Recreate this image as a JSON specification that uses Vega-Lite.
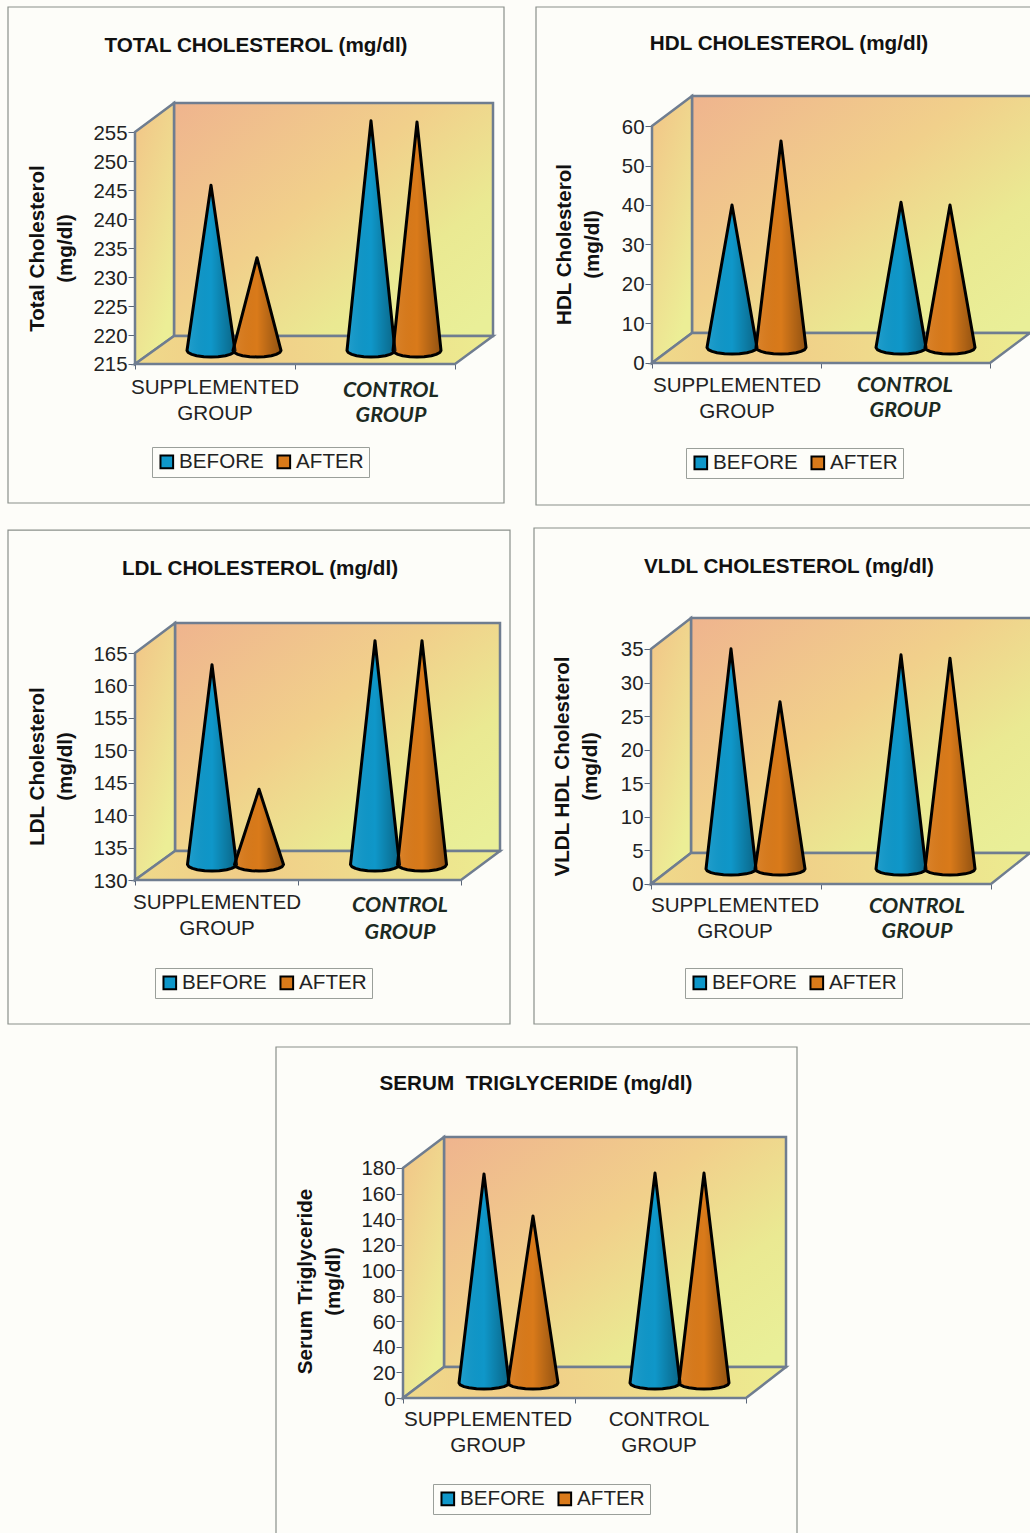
{
"$schema":"https://vega.github.io/schema/vega-lite/v6.json",
"background":"#fdfdf9",
"padding":0,
"spacing":0,
"resolve":{"scale":{"color":"independent"},"legend":{"color":"independent"}},
"config":{"view":{"stroke":null},"concat":{"spacing":0},"font":"Liberation Sans",
"legend":{"orient":"none","title":null,"direction":"horizontal","columns":2,"symbolType":"square","symbolSize":160,"symbolStrokeColor":"#000","symbolStrokeWidth":2,"labelFontSize":20.6,"labelColor":"#222","labelOffset":2,"columnPadding":8,"padding":4.5,"strokeColor":"#9a9f9a","fillColor":"#fdfdf9"},
"axis":{"grid":false,"domain":false,"ticks":true,"tickColor":"#5a6678","labelColor":"#222","labelFontSize":20.4,"labelPadding":1,"labelOffset":1,"titleColor":"#111","titleFontSize":20.6,"titleFontWeight":"bold","titleAngle":-90,"titleAlign":"center","titleBaseline":"alphabetic","titleLineHeight":28},
"title":{"fontSize":20.7,"fontWeight":"bold","color":"#111","anchor":"middle","frame":"group","baseline":"middle"}},
"datasets":{"lipids":[
{"panel":"total","group":"Supplemented","period":"BEFORE","value":243.5},
{"panel":"total","group":"Supplemented","period":"AFTER","value":231},
{"panel":"total","group":"Control","period":"BEFORE","value":254.6},
{"panel":"total","group":"Control","period":"AFTER","value":254.4},
{"panel":"hdl","group":"Supplemented","period":"BEFORE","value":36.1},
{"panel":"hdl","group":"Supplemented","period":"AFTER","value":52.3},
{"panel":"hdl","group":"Control","period":"BEFORE","value":36.8},
{"panel":"hdl","group":"Control","period":"AFTER","value":36.1},
{"panel":"ldl","group":"Supplemented","period":"BEFORE","value":160.8},
{"panel":"ldl","group":"Supplemented","period":"AFTER","value":141.6},
{"panel":"ldl","group":"Control","period":"BEFORE","value":164.5},
{"panel":"ldl","group":"Control","period":"AFTER","value":164.5},
{"panel":"vldl","group":"Supplemented","period":"BEFORE","value":32.8},
{"panel":"vldl","group":"Supplemented","period":"AFTER","value":24.9},
{"panel":"vldl","group":"Control","period":"BEFORE","value":31.9},
{"panel":"vldl","group":"Control","period":"AFTER","value":31.4},
{"panel":"tg","group":"Supplemented","period":"BEFORE","value":163.6},
{"panel":"tg","group":"Supplemented","period":"AFTER","value":130.7},
{"panel":"tg","group":"Control","period":"BEFORE","value":164.3},
{"panel":"tg","group":"Control","period":"AFTER","value":164.3}
]},
"vconcat":[
{"bounds":"flush","spacing":0,"resolve":{"scale":{"color":"independent"},"legend":{"color":"independent"}},"hconcat":[
{"width":520,"height":517,
"title":{"text":"TOTAL CHOLESTEROL (mg/dl)","offset":-57,"dx":-4},
"encoding":{
"x":{"field":"px","type":"quantitative","scale":{"domain":[0,520],"nice":false,"zero":false},"axis":{"title":null,"labels":false,"values":[135,295,455],"tickSize":5,"offset":-153}},
"y":{"field":"top","type":"quantitative","scale":{"domain":[188.62,277.76],"nice":false,"zero":false},"axis":{"title":["Total Cholesterol","(mg/dl)"],"values":[215,220,225,230,235,240,245,250,255],"tickSize":7,"offset":-135,"titleX":-92,"titleY":248}}},
"layer":[
{"data":{"values":[{"px":8,"px2":504,"top":276.55,"bottom":191.03}]},"mark":{"type":"rect","fill":"transparent","stroke":"#8a908a","strokeWidth":1.2},"encoding":{"x2":{"field":"px2"},"y2":{"field":"bottom"}}},
{"data":{"values":[{"px":174,"px2":493,"top":260,"bottom":219.83}]},"mark":{"type":"rect","stroke":"#6f7d90","strokeWidth":2.5,"fill":{"gradient":"linear","x1":0,"y1":0,"x2":1,"y2":0.9,"stops":[{"offset":0,"color":"#efb48e"},{"offset":0.45,"color":"#f1d08b"},{"offset":0.75,"color":"#eae992"},{"offset":1,"color":"#e9ef98"}]}},"encoding":{"x2":{"field":"px2"},"y2":{"field":"bottom"}}},
{"data":{"values":[{"px":135,"top":255,"bottom":215},{"px":174,"top":260,"bottom":219.83}]},"mark":{"type":"area","orient":"vertical","stroke":"#6f7d90","strokeWidth":2.5,"fill":{"gradient":"linear","x1":0,"y1":0,"x2":0.5,"y2":1,"stops":[{"offset":0,"color":"#f2c487"},{"offset":1,"color":"#ecee96"}]}},"encoding":{"y2":{"field":"bottom"}}},
{"data":{"values":[{"px":135,"top":215,"bottom":215},{"px":174,"top":219.83,"bottom":215},{"px":455,"top":219.83,"bottom":215},{"px":493,"top":219.83,"bottom":219.83}]},"mark":{"type":"area","orient":"vertical","stroke":"#6f7d90","strokeWidth":2.5,"fill":{"gradient":"linear","x1":0,"y1":0,"x2":1,"y2":0,"stops":[{"offset":0,"color":"#efd98a"},{"offset":0.3,"color":"#f1cd88"},{"offset":1,"color":"#ecec90"}]}},"encoding":{"y2":{"field":"bottom"}}},
{"data":{"name":"lipids"},
"transform":[{"filter":"datum.panel==='total'"},{"calculate":"[-1,-0.95,-0.8,-0.6,-0.3,0,0.3,0.6,0.8,0.95,1]","as":"u"},{"flatten":["u"]},
{"calculate":"({Supplemented:{BEFORE:211,AFTER:257},Control:{BEFORE:371,AFTER:417}})[datum.group][datum.period]+24*datum.u","as":"px"},
{"calculate":"217.33+(datum.value+2.33-217.33)*(1-abs(datum.u))","as":"top"},
{"calculate":"217.33-1.12*sqrt(1-datum.u*datum.u)","as":"bottom"},
{"calculate":"datum.group+datum.period","as":"cone"}],
"layer":[
{"mark":{"type":"area","orient":"vertical"},"encoding":{"y2":{"field":"bottom"},"detail":{"field":"cone"},"color":{"field":"period","type":"nominal","scale":{"domain":["BEFORE","AFTER"],"range":["#0f97c9","#d97a1a"]},"legend":{"legendX":152,"legendY":447}}}},
{"mark":{"type":"area","orient":"vertical","stroke":"#000","strokeWidth":3,"strokeJoin":"round","fill":{"gradient":"linear","x1":0,"y1":0,"x2":1,"y2":0,"stops":[{"offset":0,"color":"rgba(255,255,255,0.08)"},{"offset":0.5,"color":"rgba(0,0,0,0)"},{"offset":1,"color":"rgba(0,0,0,0.33)"}]}},"encoding":{"y2":{"field":"bottom"},"detail":{"field":"cone"}}}
]},
{"data":{"values":[{"px":215,"top":210.86,"label":"SUPPLEMENTED\nGROUP"}]},"mark":{"type":"text","fontSize":20.6,"color":"#222","lineBreak":"\n","lineHeight":26,"baseline":"middle"},"encoding":{"text":{"field":"label"}}},
{"data":{"values":[{"px":391,"top":210.35,"label":"CONTROL\nGROUP"}]},"mark":{"type":"text","font":"Lato","fontStyle":"italic","fontWeight":"bold","fontSize":21.5,"color":"#1c2a22","lineBreak":"\n","lineHeight":25,"baseline":"middle"},"encoding":{"text":{"field":"label"}}}
]},
{"width":510,"height":517,
"title":{"text":"HDL CHOLESTEROL (mg/dl)","offset":-55,"dx":14},
"encoding":{
"x":{"field":"px","type":"quantitative","scale":{"domain":[520,1030],"nice":false,"zero":false},"axis":{"title":null,"labels":false,"values":[652,821,990],"tickSize":5,"offset":-154}},
"y":{"field":"top","type":"quantitative","scale":{"domain":[-38.99,91.9],"nice":false,"zero":false},"axis":{"title":["HDL Cholesterol","(mg/dl)"],"values":[0,10,20,30,40,50,60],"tickSize":7,"offset":-132,"titleX":-82,"titleY":244}}},
"layer":[
{"data":{"values":[{"px":536,"px2":1040,"top":90.13,"bottom":-35.95}]},"mark":{"type":"rect","clip":true,"fill":"transparent","stroke":"#8a908a","strokeWidth":1.2},"encoding":{"x2":{"field":"px2"},"y2":{"field":"bottom"}}},
{"data":{"values":[{"px":692,"px2":1040,"top":67.59,"bottom":7.59}]},"mark":{"type":"rect","clip":true,"stroke":"#6f7d90","strokeWidth":2.5,"fill":{"gradient":"linear","x1":0,"y1":0,"x2":1,"y2":0.9,"stops":[{"offset":0,"color":"#efb48e"},{"offset":0.45,"color":"#f1d08b"},{"offset":0.75,"color":"#eae992"},{"offset":1,"color":"#e9ef98"}]}},"encoding":{"x2":{"field":"px2"},"y2":{"field":"bottom"}}},
{"data":{"values":[{"px":652,"top":60,"bottom":0},{"px":692,"top":67.59,"bottom":7.59}]},"mark":{"type":"area","orient":"vertical","stroke":"#6f7d90","strokeWidth":2.5,"fill":{"gradient":"linear","x1":0,"y1":0,"x2":0.5,"y2":1,"stops":[{"offset":0,"color":"#f2c487"},{"offset":1,"color":"#ecee96"}]}},"encoding":{"y2":{"field":"bottom"}}},
{"data":{"values":[{"px":652,"top":0,"bottom":0},{"px":692,"top":7.59,"bottom":0},{"px":990,"top":7.59,"bottom":0},{"px":1030,"top":7.59,"bottom":7.59}]},"mark":{"type":"area","orient":"vertical","clip":true,"stroke":"#6f7d90","strokeWidth":2.5,"fill":{"gradient":"linear","x1":0,"y1":0,"x2":1,"y2":0,"stops":[{"offset":0,"color":"#efd98a"},{"offset":0.3,"color":"#f1cd88"},{"offset":1,"color":"#ecec90"}]}},"encoding":{"y2":{"field":"bottom"}}},
{"data":{"name":"lipids"},
"transform":[{"filter":"datum.panel==='hdl'"},{"calculate":"[-1,-0.95,-0.8,-0.6,-0.3,0,0.3,0.6,0.8,0.95,1]","as":"u"},{"flatten":["u"]},
{"calculate":"({Supplemented:{BEFORE:732,AFTER:781},Control:{BEFORE:901,AFTER:950}})[datum.group][datum.period]+25*datum.u","as":"px"},
{"calculate":"3.92+(datum.value+3.92-3.92)*(1-abs(datum.u))","as":"top"},
{"calculate":"3.92-1.65*sqrt(1-datum.u*datum.u)","as":"bottom"},
{"calculate":"datum.group+datum.period","as":"cone"}],
"layer":[
{"mark":{"type":"area","orient":"vertical"},"encoding":{"y2":{"field":"bottom"},"detail":{"field":"cone"},"color":{"field":"period","type":"nominal","scale":{"domain":["BEFORE","AFTER"],"range":["#0f97c9","#d97a1a"]},"legend":{"legendX":166,"legendY":448}}}},
{"mark":{"type":"area","orient":"vertical","stroke":"#000","strokeWidth":3,"strokeJoin":"round","fill":{"gradient":"linear","x1":0,"y1":0,"x2":1,"y2":0,"stops":[{"offset":0,"color":"rgba(255,255,255,0.08)"},{"offset":0.5,"color":"rgba(0,0,0,0)"},{"offset":1,"color":"rgba(0,0,0,0.33)"}]}},"encoding":{"y2":{"field":"bottom"},"detail":{"field":"cone"}}}
]},
{"data":{"values":[{"px":737,"top":-5.82,"label":"SUPPLEMENTED\nGROUP"}]},"mark":{"type":"text","fontSize":20.6,"color":"#222","lineBreak":"\n","lineHeight":26,"baseline":"middle"},"encoding":{"text":{"field":"label"}}},
{"data":{"values":[{"px":905,"top":-5.82,"label":"CONTROL\nGROUP"}]},"mark":{"type":"text","font":"Lato","fontStyle":"italic","fontWeight":"bold","fontSize":21.5,"color":"#1c2a22","lineBreak":"\n","lineHeight":25,"baseline":"middle"},"encoding":{"text":{"field":"label"}}}
]}
]},
{"bounds":"flush","spacing":0,"resolve":{"scale":{"color":"independent"},"legend":{"color":"independent"}},"hconcat":[
{"width":520,"height":519,
"title":{"text":"LDL CHOLESTEROL (mg/dl)","offset":-63,"dx":0},
"encoding":{
"x":{"field":"px","type":"quantitative","scale":{"domain":[0,520],"nice":false,"zero":false},"axis":{"title":null,"labels":false,"values":[135,298,461],"tickSize":5,"offset":-156}},
"y":{"field":"top","type":"quantitative","scale":{"domain":[105.95,185.97],"nice":false,"zero":false},"axis":{"title":["LDL Cholesterol","(mg/dl)"],"values":[130,135,140,145,150,155,160,165],"tickSize":7,"offset":-135,"titleX":-92,"titleY":249}}},
"layer":[
{"data":{"values":[{"px":8,"px2":510,"top":183.96,"bottom":107.8}]},"mark":{"type":"rect","fill":"transparent","stroke":"#8a908a","strokeWidth":1.2},"encoding":{"x2":{"field":"px2"},"y2":{"field":"bottom"}}},
{"data":{"values":[{"px":175,"px2":500,"top":169.62,"bottom":134.47}]},"mark":{"type":"rect","stroke":"#6f7d90","strokeWidth":2.5,"fill":{"gradient":"linear","x1":0,"y1":0,"x2":1,"y2":0.9,"stops":[{"offset":0,"color":"#efb48e"},{"offset":0.45,"color":"#f1d08b"},{"offset":0.75,"color":"#eae992"},{"offset":1,"color":"#e9ef98"}]}},"encoding":{"x2":{"field":"px2"},"y2":{"field":"bottom"}}},
{"data":{"values":[{"px":135,"top":165,"bottom":130},{"px":175,"top":169.62,"bottom":134.47}]},"mark":{"type":"area","orient":"vertical","stroke":"#6f7d90","strokeWidth":2.5,"fill":{"gradient":"linear","x1":0,"y1":0,"x2":0.5,"y2":1,"stops":[{"offset":0,"color":"#f2c487"},{"offset":1,"color":"#ecee96"}]}},"encoding":{"y2":{"field":"bottom"}}},
{"data":{"values":[{"px":135,"top":130,"bottom":130},{"px":175,"top":134.47,"bottom":130},{"px":461,"top":134.47,"bottom":130},{"px":500,"top":134.47,"bottom":134.47}]},"mark":{"type":"area","orient":"vertical","stroke":"#6f7d90","strokeWidth":2.5,"fill":{"gradient":"linear","x1":0,"y1":0,"x2":1,"y2":0,"stops":[{"offset":0,"color":"#efd98a"},{"offset":0.3,"color":"#f1cd88"},{"offset":1,"color":"#ecec90"}]}},"encoding":{"y2":{"field":"bottom"}}},
{"data":{"name":"lipids"},
"transform":[{"filter":"datum.panel==='ldl'"},{"calculate":"[-1,-0.95,-0.8,-0.6,-0.3,0,0.3,0.6,0.8,0.95,1]","as":"u"},{"flatten":["u"]},
{"calculate":"({Supplemented:{BEFORE:212,AFTER:259},Control:{BEFORE:375,AFTER:422}})[datum.group][datum.period]+24.5*datum.u","as":"px"},
{"calculate":"132.39+(datum.value+2.39-132.39)*(1-abs(datum.u))","as":"top"},
{"calculate":"132.39-1*sqrt(1-datum.u*datum.u)","as":"bottom"},
{"calculate":"datum.group+datum.period","as":"cone"}],
"layer":[
{"mark":{"type":"area","orient":"vertical"},"encoding":{"y2":{"field":"bottom"},"detail":{"field":"cone"},"color":{"field":"period","type":"nominal","scale":{"domain":["BEFORE","AFTER"],"range":["#0f97c9","#d97a1a"]},"legend":{"legendX":155,"legendY":451}}}},
{"mark":{"type":"area","orient":"vertical","stroke":"#000","strokeWidth":3,"strokeJoin":"round","fill":{"gradient":"linear","x1":0,"y1":0,"x2":1,"y2":0,"stops":[{"offset":0,"color":"rgba(255,255,255,0.08)"},{"offset":0.5,"color":"rgba(0,0,0,0)"},{"offset":1,"color":"rgba(0,0,0,0.33)"}]}},"encoding":{"y2":{"field":"bottom"},"detail":{"field":"cone"}}}
]},
{"data":{"values":[{"px":217,"top":126.45,"label":"SUPPLEMENTED\nGROUP"}]},"mark":{"type":"text","fontSize":20.6,"color":"#222","lineBreak":"\n","lineHeight":26,"baseline":"middle"},"encoding":{"text":{"field":"label"}}},
{"data":{"values":[{"px":400,"top":126,"label":"CONTROL\nGROUP"}]},"mark":{"type":"text","font":"Lato","fontStyle":"italic","fontWeight":"bold","fontSize":21.5,"color":"#1c2a22","lineBreak":"\n","lineHeight":27,"baseline":"middle"},"encoding":{"text":{"field":"label"}}}
]},
{"width":510,"height":519,
"title":{"text":"VLDL CHOLESTEROL (mg/dl)","offset":-61,"dx":14},
"encoding":{
"x":{"field":"px","type":"quantitative","scale":{"domain":[520,1030],"nice":false,"zero":false},"axis":{"title":null,"labels":false,"values":[651,821,991],"tickSize":5,"offset":-152}},
"y":{"field":"top","type":"quantitative","scale":{"domain":[-22.64,54.66],"nice":false,"zero":false},"axis":{"title":["VLDL HDL Cholesterol","(mg/dl)"],"values":[0,5,10,15,20,25,30,35],"tickSize":7,"offset":-131,"titleX":-83,"titleY":249}}},
"layer":[
{"data":{"values":[{"px":534,"px2":1040,"top":53.02,"bottom":-20.85}]},"mark":{"type":"rect","clip":true,"fill":"transparent","stroke":"#8a908a","strokeWidth":1.2},"encoding":{"x2":{"field":"px2"},"y2":{"field":"bottom"}}},
{"data":{"values":[{"px":691,"px2":1040,"top":39.62,"bottom":4.62}]},"mark":{"type":"rect","clip":true,"stroke":"#6f7d90","strokeWidth":2.5,"fill":{"gradient":"linear","x1":0,"y1":0,"x2":1,"y2":0.9,"stops":[{"offset":0,"color":"#efb48e"},{"offset":0.45,"color":"#f1d08b"},{"offset":0.75,"color":"#eae992"},{"offset":1,"color":"#e9ef98"}]}},"encoding":{"x2":{"field":"px2"},"y2":{"field":"bottom"}}},
{"data":{"values":[{"px":651,"top":35,"bottom":0},{"px":691,"top":39.62,"bottom":4.62}]},"mark":{"type":"area","orient":"vertical","stroke":"#6f7d90","strokeWidth":2.5,"fill":{"gradient":"linear","x1":0,"y1":0,"x2":0.5,"y2":1,"stops":[{"offset":0,"color":"#f2c487"},{"offset":1,"color":"#ecee96"}]}},"encoding":{"y2":{"field":"bottom"}}},
{"data":{"values":[{"px":651,"top":0,"bottom":0},{"px":691,"top":4.62,"bottom":0},{"px":991,"top":4.62,"bottom":0},{"px":1030,"top":4.62,"bottom":4.62}]},"mark":{"type":"area","orient":"vertical","clip":true,"stroke":"#6f7d90","strokeWidth":2.5,"fill":{"gradient":"linear","x1":0,"y1":0,"x2":1,"y2":0,"stops":[{"offset":0,"color":"#efd98a"},{"offset":0.3,"color":"#f1cd88"},{"offset":1,"color":"#ecec90"}]}},"encoding":{"y2":{"field":"bottom"}}},
{"data":{"name":"lipids"},
"transform":[{"filter":"datum.panel==='vldl'"},{"calculate":"[-1,-0.95,-0.8,-0.6,-0.3,0,0.3,0.6,0.8,0.95,1]","as":"u"},{"flatten":["u"]},
{"calculate":"({Supplemented:{BEFORE:731,AFTER:780},Control:{BEFORE:901,AFTER:950}})[datum.group][datum.period]+25*datum.u","as":"px"},
{"calculate":"2.23+(datum.value+2.23-2.23)*(1-abs(datum.u))","as":"top"},
{"calculate":"2.23-0.9*sqrt(1-datum.u*datum.u)","as":"bottom"},
{"calculate":"datum.group+datum.period","as":"cone"}],
"layer":[
{"mark":{"type":"area","orient":"vertical"},"encoding":{"y2":{"field":"bottom"},"detail":{"field":"cone"},"color":{"field":"period","type":"nominal","scale":{"domain":["BEFORE","AFTER"],"range":["#0f97c9","#d97a1a"]},"legend":{"legendX":165,"legendY":451}}}},
{"mark":{"type":"area","orient":"vertical","stroke":"#000","strokeWidth":3,"strokeJoin":"round","fill":{"gradient":"linear","x1":0,"y1":0,"x2":1,"y2":0,"stops":[{"offset":0,"color":"rgba(255,255,255,0.08)"},{"offset":0.5,"color":"rgba(0,0,0,0)"},{"offset":1,"color":"rgba(0,0,0,0.33)"}]}},"encoding":{"y2":{"field":"bottom"},"detail":{"field":"cone"}}}
]},
{"data":{"values":[{"px":735,"top":-3.28,"label":"SUPPLEMENTED\nGROUP"}]},"mark":{"type":"text","fontSize":20.6,"color":"#222","lineBreak":"\n","lineHeight":26,"baseline":"middle"},"encoding":{"text":{"field":"label"}}},
{"data":{"values":[{"px":917,"top":-3.43,"label":"CONTROL\nGROUP"}]},"mark":{"type":"text","font":"Lato","fontStyle":"italic","fontWeight":"bold","fontSize":21.5,"color":"#1c2a22","lineBreak":"\n","lineHeight":25,"baseline":"middle"},"encoding":{"text":{"field":"label"}}}
]}
]},
{"width":1030,"height":497,
"title":{"text":"SERUM\u00a0 TRIGLYCERIDE (mg/dl)","offset":-59,"dx":21},
"encoding":{
"x":{"field":"px","type":"quantitative","scale":{"domain":[0,1030],"nice":false,"zero":false},"axis":{"title":null,"labels":false,"values":[403,574.5,746],"tickSize":5,"offset":-135}},
"y":{"field":"top","type":"quantitative","scale":{"domain":[-105.65,283.3],"nice":false,"zero":false},"axis":{"title":["Serum Triglyceride","(mg/dl)"],"values":[0,20,40,60,80,100,120,140,160,180],"tickSize":7,"offset":-403,"titleX":-92,"titleY":245}}},
"layer":[
{"data":{"values":[{"px":276,"px2":797,"top":274.7,"bottom":-120}]},"mark":{"type":"rect","clip":true,"fill":"transparent","stroke":"#8a908a","strokeWidth":1.2},"encoding":{"x2":{"field":"px2"},"y2":{"field":"bottom"}}},
{"data":{"values":[{"px":444,"px2":786,"top":204.26,"bottom":24.26}]},"mark":{"type":"rect","stroke":"#6f7d90","strokeWidth":2.5,"fill":{"gradient":"linear","x1":0,"y1":0,"x2":1,"y2":0.9,"stops":[{"offset":0,"color":"#efb48e"},{"offset":0.45,"color":"#f1d08b"},{"offset":0.75,"color":"#eae992"},{"offset":1,"color":"#e9ef98"}]}},"encoding":{"x2":{"field":"px2"},"y2":{"field":"bottom"}}},
{"data":{"values":[{"px":403,"top":180,"bottom":0},{"px":444,"top":204.26,"bottom":24.26}]},"mark":{"type":"area","orient":"vertical","stroke":"#6f7d90","strokeWidth":2.5,"fill":{"gradient":"linear","x1":0,"y1":0,"x2":0.5,"y2":1,"stops":[{"offset":0,"color":"#f2c487"},{"offset":1,"color":"#ecee96"}]}},"encoding":{"y2":{"field":"bottom"}}},
{"data":{"values":[{"px":403,"top":0,"bottom":0},{"px":444,"top":24.26,"bottom":0},{"px":746,"top":24.26,"bottom":0},{"px":786,"top":24.26,"bottom":24.26}]},"mark":{"type":"area","orient":"vertical","stroke":"#6f7d90","strokeWidth":2.5,"fill":{"gradient":"linear","x1":0,"y1":0,"x2":1,"y2":0,"stops":[{"offset":0,"color":"#efd98a"},{"offset":0.3,"color":"#f1cd88"},{"offset":1,"color":"#ecec90"}]}},"encoding":{"y2":{"field":"bottom"}}},
{"data":{"name":"lipids"},
"transform":[{"filter":"datum.panel==='tg'"},{"calculate":"[-1,-0.95,-0.8,-0.6,-0.3,0,0.3,0.6,0.8,0.95,1]","as":"u"},{"flatten":["u"]},
{"calculate":"({Supplemented:{BEFORE:484,AFTER:533},Control:{BEFORE:655,AFTER:704}})[datum.group][datum.period]+25*datum.u","as":"px"},
{"calculate":"11.74+(datum.value+11.74-11.74)*(1-abs(datum.u))","as":"top"},
{"calculate":"11.74-4.7*sqrt(1-datum.u*datum.u)","as":"bottom"},
{"calculate":"datum.group+datum.period","as":"cone"}],
"layer":[
{"mark":{"type":"area","orient":"vertical"},"encoding":{"y2":{"field":"bottom"},"detail":{"field":"cone"},"color":{"field":"period","type":"nominal","scale":{"domain":["BEFORE","AFTER"],"range":["#0f97c9","#d97a1a"]},"legend":{"legendX":433,"legendY":448}}}},
{"mark":{"type":"area","orient":"vertical","stroke":"#000","strokeWidth":3,"strokeJoin":"round","fill":{"gradient":"linear","x1":0,"y1":0,"x2":1,"y2":0,"stops":[{"offset":0,"color":"rgba(255,255,255,0.08)"},{"offset":0.5,"color":"rgba(0,0,0,0)"},{"offset":1,"color":"rgba(0,0,0,0.33)"}]}},"encoding":{"y2":{"field":"bottom"},"detail":{"field":"cone"}}}
]},
{"data":{"values":[{"px":488,"top":-17.2,"label":"SUPPLEMENTED\nGROUP"},{"px":659,"top":-17.2,"label":"CONTROL\nGROUP"}]},"mark":{"type":"text","fontSize":20.6,"color":"#222","lineBreak":"\n","lineHeight":26,"baseline":"middle"},"encoding":{"text":{"field":"label"}}}
]}
]
}
